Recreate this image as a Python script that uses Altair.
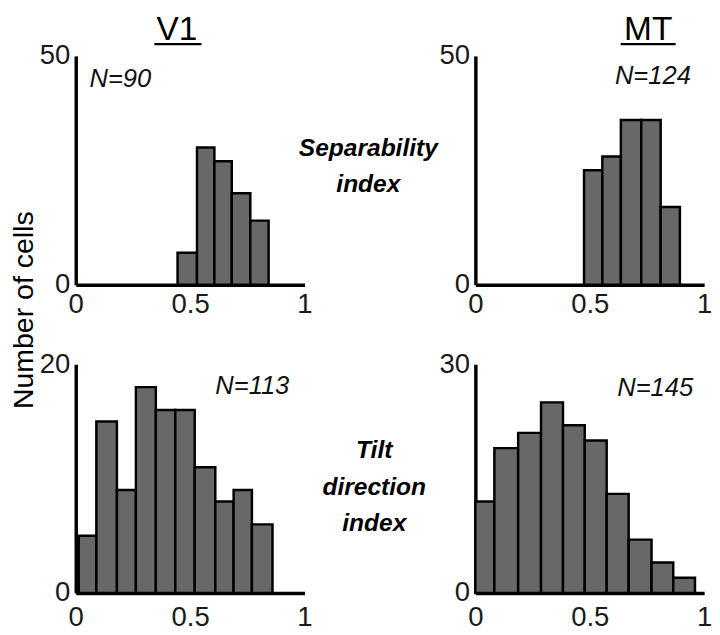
import altair as alt
import pandas as pd

# ---- data ----
sep_v1_start = [0.445, 0.530, 0.606, 0.682, 0.763]
sep_v1_end = [0.530, 0.606, 0.682, 0.763, 0.843]
sep_v1_count = [7, 30, 27, 20, 14]

sep_mt_start = [0.475, 0.555, 0.636, 0.725, 0.810]
sep_mt_end = [0.555, 0.636, 0.725, 0.810, 0.894]
sep_mt_count = [25, 28, 36, 36, 17]

tilt_v1_start = [0.013, 0.090, 0.180, 0.263, 0.350, 0.435, 0.520, 0.610, 0.690, 0.770]
tilt_v1_end = [0.090, 0.180, 0.263, 0.350, 0.435, 0.520, 0.610, 0.690, 0.770, 0.860]
tilt_v1_count = [5, 15, 9, 18, 16, 16, 11, 8, 9, 6]

tilt_mt_start = [0.000, 0.083, 0.187, 0.287, 0.383, 0.478, 0.574, 0.670, 0.770, 0.865]
tilt_mt_end = [0.083, 0.187, 0.287, 0.383, 0.478, 0.574, 0.670, 0.770, 0.865, 0.960]
tilt_mt_count = [12, 19, 21, 25, 22, 20, 13, 7, 4, 2]

n_cells = [90, 124, 113, 145]
y_max = [50, 50, 20, 30]
x_ticks = [0, 0.5, 1]
area_titles = ["V1", "MT"]
row_labels = ["Separability\nindex", "Tilt\ndirection\nindex"]
y_title = "Number of cells"

FONT = "Liberation Sans"
W = 233
H = 233


def panel(starts, ends, counts, ymax, n, nx, ny, xpad):
    df = pd.DataFrame({"start": starts, "end": ends, "count": counts})
    bars = alt.Chart(df).mark_rect(
        fill="#686868", stroke="black", strokeWidth=2.5
    ).encode(
        x=alt.X("start:Q",
                scale=alt.Scale(domain=[0, 1], nice=False, zero=False),
                axis=alt.Axis(values=x_ticks, format="~g", labelFlush=False,
                              labelPadding=xpad, title=None)),
        x2="end:Q",
        y=alt.Y("count:Q",
                scale=alt.Scale(domain=[0, ymax], nice=False),
                axis=alt.Axis(values=[0, ymax], title=None)),
        y2=alt.datum(0),
    )
    ntext = alt.Chart(pd.DataFrame({"t": [f"N={n}"]})).mark_text(
        font=FONT, fontSize=26, fontStyle="italic", align="left",
        baseline="middle", color="#111"
    ).encode(x=alt.datum(nx), y=alt.datum(ny), text="t:N")
    return [bars, ntext]


def label(text, x, y, size, **kw):
    return alt.Chart(pd.DataFrame({"t": [text]})).mark_text(
        font=FONT, fontSize=size, color="black", **kw
    ).encode(x=alt.value(x), y=alt.value(y), text="t:N")


def underline(x1, x2, y):
    return alt.Chart(pd.DataFrame({"a": [0]})).mark_rule(
        color="black", strokeWidth=2.5
    ).encode(x=alt.value(x1), x2=alt.value(x2), y=alt.value(y))


p1 = alt.layer(
    *panel(sep_v1_start, sep_v1_end, sep_v1_count, y_max[0], n_cells[0], 0.06, 45, 6),
    label(area_titles[0], 103, -16, 34, align="center", baseline="alphabetic"),
    underline(80, 128, -12),
    label(row_labels[0], 298, 102, 25, align="center", baseline="alphabetic",
          fontStyle="italic", fontWeight="bold", lineBreak="\n", lineHeight=37),
    label(y_title, -53, 259, 29, align="center", baseline="middle", angle=270),
).properties(width=W, height=H)

p2 = alt.layer(
    *panel(sep_mt_start, sep_mt_end, sep_mt_count, y_max[1], n_cells[1], 0.61, 45.5, 6),
    label(area_titles[1], 176, -16, 34, align="center", baseline="alphabetic"),
    underline(148, 204, -12),
).properties(width=W, height=H)

p3 = alt.layer(
    *panel(tilt_v1_start, tilt_v1_end, tilt_v1_count, y_max[2], n_cells[2], 0.61, 18.1, 11),
    label(row_labels[1], 304, 96, 25, align="center", baseline="alphabetic",
          fontStyle="italic", fontWeight="bold", lineBreak="\n", lineHeight=37),
).properties(width=W, height=H)

p4 = alt.layer(
    *panel(tilt_mt_start, tilt_mt_end, tilt_mt_count, y_max[3], n_cells[3], 0.62, 26.9, 11),
).properties(width=W, height=H)

chart = alt.concat(
    p1, p2, p3, p4, columns=2,
    spacing={"row": 81, "column": 174}, bounds="flush"
).properties(
    padding={"top": 0, "left": 2, "right": 0, "bottom": 0}
).configure_axis(
    domainColor="black", domainWidth=3.5, ticks=False, grid=False,
    labelFont=FONT, labelFontSize=28, labelColor="#1a1a1a", labelPadding=6,
).configure_view(stroke=None)

chart.save("out.html", embed_options={"renderer": "svg", "actions": False})
